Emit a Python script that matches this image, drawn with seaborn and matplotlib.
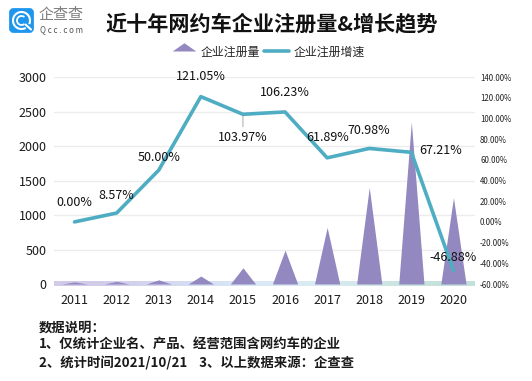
import numpy as np
import pandas as pd
import matplotlib
matplotlib.use("Agg")
import matplotlib.pyplot as plt
import seaborn as sns
from matplotlib.lines import Line2D
from matplotlib.patches import FancyBboxPatch, Arc

# values
years = [2011, 2012, 2013, 2014, 2015, 2016, 2017, 2018, 2019, 2020]
registered = [30, 38, 60, 115, 235, 490, 820, 1400, 2350, 1250]
growth = [0.00, 8.57, 50.00, 121.05, 103.97, 106.23, 61.89, 70.98, 67.21, -46.88]
left_ticks = [0, 500, 1000, 1500, 2000, 2500, 3000]
right_ticks = [-60, -40, -20, 0, 20, 40, 60, 80, 100, 120, 140]

# label offsets from each point, in pixels
label_dx = [0, 0, 0, 0, 0, 0, 0, 0, 29, 0]
label_dy = [19, 18, 13, 20, -23, 19, 20, 18, 2, 13]

sns.set_style("white")
plt.rcParams["font.family"] = ["Noto Sans CJK SC", "DejaVu Sans"]

W, H = 532, 381
fig = plt.figure(figsize=(W / 100, H / 100), dpi=100)
ax = fig.add_axes([53.5 / W, 1 - 284 / H, 421 / W, 207 / H])
ax2 = ax.twinx()

PURPLE = "#9488c0"
TEAL = "#4fadc3"
df = pd.DataFrame({"year": years, "registered": registered, "growth": growth})
x = np.arange(len(years))

# registered count drawn as spiky triangles
half = 0.3
for i, v in zip(x, registered):
    ax.fill_between([i - half, i, i + half], [0, v, 0], 0, color=PURPLE, lw=0, zorder=3)

# gradient strip along the baseline, under the triangles
strip = np.array([[[0.82, 0.79, 0.91], [0.84, 0.89, 0.96], [0.88, 0.94, 0.97], [0.76, 0.88, 0.85]]])
ax.imshow(strip, extent=[-0.5, 9.5, -36, 29], aspect="auto", interpolation="bicubic",
          zorder=2, clip_on=False)

ax.set_xlim(-0.5, 9.5)
ax.set_ylim(0, 3000)
ax.set_yticks(left_ticks)
ax.set_xticks(x)
ax.set_xticklabels(years)
ax.tick_params(axis="both", length=0, labelsize=9, colors="#1a1a1a", pad=5)
ax.tick_params(axis="x", pad=7)
ax.grid(axis="y", color="#ececec", lw=1)
ax.set_axisbelow(True)
for a in (ax, ax2):
    for s in a.spines.values():
        s.set_visible(False)

sns.lineplot(data=df.assign(pos=x), x="pos", y="growth", ax=ax2, color=TEAL, lw=2.6, legend=False, zorder=5)
ax2.set_ylim(-60, 140)
ax2.set_yticks(right_ticks)
ax2.set_yticklabels([f"{t:.2f}%" for t in right_ticks])
ax2.tick_params(axis="y", length=0, labelsize=5.7, colors="#222222", pad=4)
ax2.set_xlabel("")
ax2.set_ylabel("")
ax.set_xlabel("")

for i, v in enumerate(growth):
    ax2.annotate(f"{v:.2f}%", (i, v), xytext=(label_dx[i] * 0.72, label_dy[i] * 0.72),
                 textcoords="offset points", ha="center", va="center",
                 fontsize=9, color="#111111", zorder=6)

# leader line under the 2015 point
ax2.annotate("", (4, growth[4]), xytext=(0, -9), textcoords="offset points",
             arrowprops=dict(arrowstyle="-", color="#999999", lw=0.6, shrinkA=0, shrinkB=0))

# legend
tri = Line2D([], [], ls="", marker=[(-1, 0), (0, 0.7), (1, 0)], markersize=17, color=PURPLE, mew=0)
line = Line2D([], [], color=TEAL, lw=2.6)
fig.legend([tri, line], ["企业注册量", "企业注册增速"], loc="center", bbox_to_anchor=(268 / W, 1 - 52 / H),
           ncol=2, frameon=False, fontsize=8.6, handlelength=2.1, columnspacing=0.3, handletextpad=0.4)

# title
fig.text(272 / W, 1 - 23.5 / H, "近十年网约车企业注册量&增长趋势", ha="center", va="center",
         fontsize=15.2, fontweight="bold", color="#111111")

# logo
logo = fig.add_axes([0, 0, 1, 1], facecolor="none")
logo.set_xlim(0, W)
logo.set_ylim(H, 0)
logo.axis("off")
logo.add_patch(FancyBboxPatch((10.5, 9.5), 22, 22, boxstyle="round,pad=0,rounding_size=3", fc="#1e96ee", ec="#1e96ee", lw=2))
logo.add_patch(Arc((21.5, 20.5), 17, 17, theta1=60, theta2=25, ec="white", lw=1.5))
logo.add_patch(Arc((21.5, 20.5), 9, 9, theta1=50, theta2=310, ec="white", lw=1.3))
logo.plot([25.5, 31], [24.5, 29.5], color="white", lw=1.5)
logo.text(60.5, 15.5, "企查查", ha="center", va="center", fontsize=10.8, color="#808080")
logo.text(61, 30, "Q c c . c o m", ha="center", va="center", fontsize=5.8, color="#555555")
logo.set_xlim(0, W)
logo.set_ylim(H, 0)

# notes under the chart
notes = ["数据说明：", "1、仅统计企业名、产品、经营范围含网约车的企业", "2、统计时间2021/10/21    3、以上数据来源：企查查"]
for s, yy in zip(notes, [328, 345, 363]):
    logo.text(39, yy, s, ha="left", va="center", fontsize=9.6, fontweight="bold", color="#1a1a1a")

fig.savefig("out.png", dpi=100)
